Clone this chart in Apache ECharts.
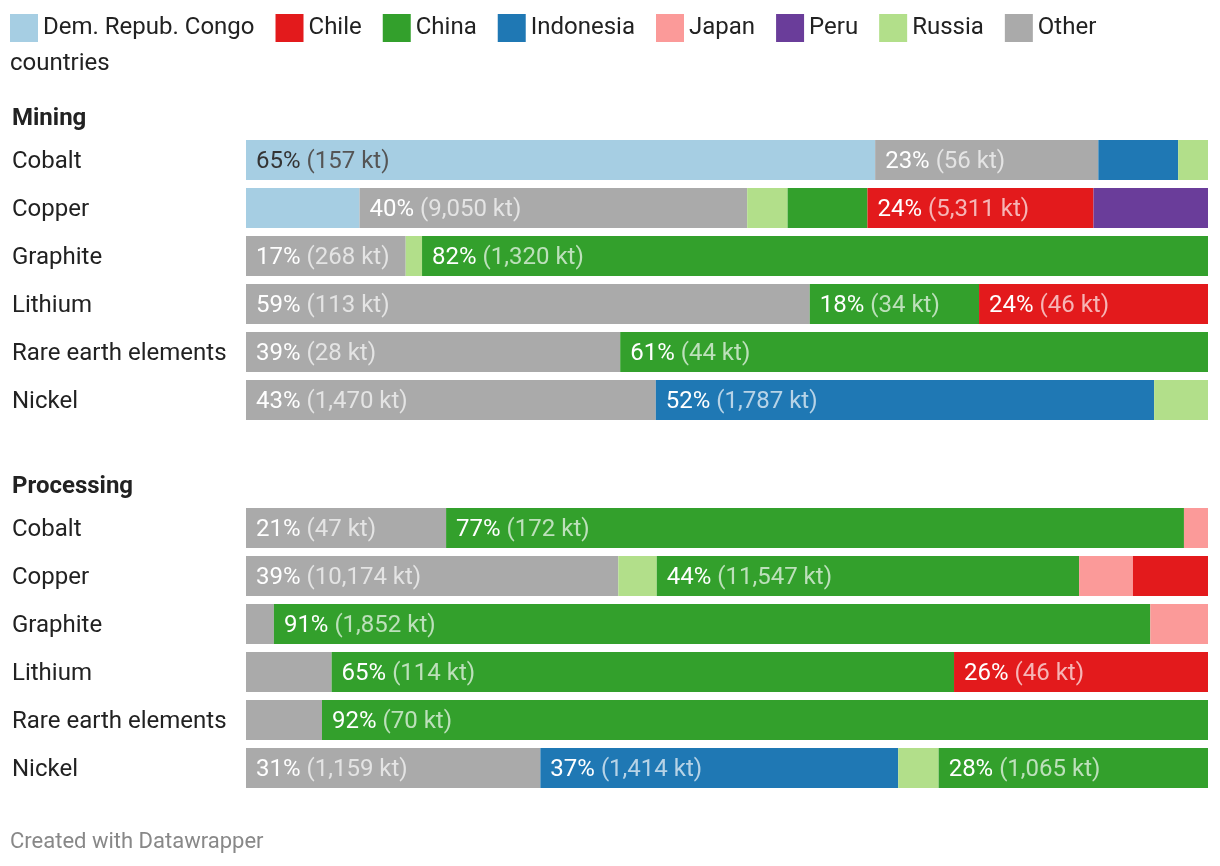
<!DOCTYPE html>
<html>
<head>
<meta charset="utf-8">
<script src="https://cdn.jsdelivr.net/npm/echarts@6/dist/echarts.min.js"></script>
<style>
  html, body { margin: 0; padding: 0; background: #fff; }
  #chart { width: 1220px; height: 866px; }
</style>
</head>
<body>
<div id="chart"></div>
<script>
// ---------- DATA ----------
const categories = ['Cobalt', 'Copper', 'Graphite', 'Lithium', 'Rare earth elements', 'Nickel'];

// stacking order of segments (left to right)
const stackOrder = ['Dem. Repub. Congo', 'Other countries', 'Indonesia', 'Russia', 'China', 'Japan', 'Chile', 'Peru'];
// legend order
const legendOrder = ['Dem. Repub. Congo', 'Chile', 'China', 'Indonesia', 'Japan', 'Peru', 'Russia', 'Other countries'];

// Mining shares (%) per country, by category
const miningCongo     = [65.4, 11.8, 0, 0, 0, 0];
const miningOther     = [23.2, 40.3, 16.6, 58.6, 38.9, 42.6];
const miningIndonesia = [8.3, 0, 0, 0, 0, 51.8];
const miningRussia    = [3.1, 4.2, 1.7, 0, 0, 5.6];
const miningChina     = [0, 8.3, 81.7, 17.6, 61.1, 0];
const miningJapan     = [0, 0, 0, 0, 0, 0];
const miningChile     = [0, 23.5, 0, 23.8, 0, 0];
const miningPeru      = [0, 11.9, 0, 0, 0, 0];

// Mining volumes (kt) shown in labels (null = no label)
const miningKtCongo     = [157, null, null, null, null, null];
const miningKtOther     = [56, 9050, 268, 113, 28, 1470];
const miningKtIndonesia = [null, null, null, null, null, 1787];
const miningKtChina     = [null, null, 1320, 34, 44, null];
const miningKtChile     = [null, 5311, null, 46, null, null];

// Processing shares (%) per country, by category
const procCongo     = [0, 0, 0, 0, 0, 0];
const procOther     = [20.8, 38.7, 2.9, 8.9, 7.9, 30.6];
const procIndonesia = [0, 0, 0, 0, 0, 37.2];
const procRussia    = [0, 4.0, 0, 0, 0, 4.2];
const procChina     = [76.7, 43.9, 91.1, 64.7, 92.1, 28.0];
const procJapan     = [2.5, 5.6, 6.0, 0, 0, 0];
const procChile     = [0, 7.8, 0, 26.4, 0, 0];
const procPeru      = [0, 0, 0, 0, 0, 0];

// Processing volumes (kt) shown in labels
const procKtOther     = [47, 10174, null, null, null, 1159];
const procKtIndonesia = [null, null, null, null, null, 1414];
const procKtChina     = [172, 11547, 1852, 114, 70, 1065];
const procKtChile     = [null, null, null, 46, null, null];

// ---------- STYLE ----------
const colors = {
  'Dem. Repub. Congo': '#a6cee3',
  'Chile': '#e31a1c',
  'China': '#33a02c',
  'Indonesia': '#1f78b4',
  'Japan': '#fb9a99',
  'Peru': '#6a3d9a',
  'Russia': '#b2df8a',
  'Other countries': '#aaaaaa'
};
const FONT = 'Roboto, "Noto Sans", sans-serif';
const FS = 24;

const miningShares = {
  'Dem. Repub. Congo': miningCongo, 'Other countries': miningOther, 'Indonesia': miningIndonesia,
  'Russia': miningRussia, 'China': miningChina, 'Japan': miningJapan, 'Chile': miningChile, 'Peru': miningPeru
};
const miningKt = {
  'Dem. Repub. Congo': miningKtCongo, 'Other countries': miningKtOther, 'Indonesia': miningKtIndonesia,
  'China': miningKtChina, 'Chile': miningKtChile
};
const procShares = {
  'Dem. Repub. Congo': procCongo, 'Other countries': procOther, 'Indonesia': procIndonesia,
  'Russia': procRussia, 'China': procChina, 'Japan': procJapan, 'Chile': procChile, 'Peru': procPeru
};
const procKt = {
  'Other countries': procKtOther, 'Indonesia': procKtIndonesia, 'China': procKtChina, 'Chile': procKtChile
};

function makeSeries(idx, shares, kts) {
  return stackOrder.map(name => {
    const kt = kts[name] || [];
    const dark = name === 'Dem. Repub. Congo';
    return {
      type: 'bar',
      name: name,
      stack: 'stack' + idx,
      xAxisIndex: idx,
      yAxisIndex: idx,
      barWidth: 40,
      data: shares[name],
      itemStyle: { color: colors[name] },
      emphasis: { disabled: true },
      label: {
        show: true,
        position: 'insideLeft',
        distance: 10,
        offset: [0, 2],
        fontFamily: FONT,
        fontSize: FS,
        formatter: p => {
          const v = kt[p.dataIndex];
          if (v === null || v === undefined) return '';
          return '{a|' + Math.round(p.value) + '%} {b|(' + v.toLocaleString('en-US') + ' kt)}';
        },
        rich: {
          a: { color: dark ? '#333333' : '#ffffff', fontSize: FS, fontFamily: FONT },
          b: { color: dark ? '#555555' : 'rgba(255,255,255,0.68)', fontSize: FS, fontFamily: FONT }
        }
      }
    };
  });
}

const yAxisBase = {
  type: 'category',
  data: categories,
  inverse: true,
  axisLine: { show: false },
  axisTick: { show: false },
  splitLine: { show: false },
  axisLabel: {
    align: 'left', margin: 234, fontSize: FS, color: '#222222', fontFamily: FONT,
    formatter: v => '{l|' + v + '}',
    rich: { l: { fontSize: FS, color: '#222222', fontFamily: FONT, padding: [4, 0, 0, 0] } }
  }
};
const xAxisBase = { type: 'value', min: 0, max: 100, show: false };

const option = {
  animation: false,
  backgroundColor: '#ffffff',
  textStyle: { fontFamily: FONT },
  legend: {
    data: legendOrder,
    left: 10,
    top: 14,
    padding: 0,
    icon: 'rect',
    itemWidth: 28,
    itemHeight: 28,
    itemGap: 21,
    selectedMode: false,
    formatter: n => n === 'Other countries' ? 'Other' : n,
    textStyle: { fontSize: FS, color: '#222222', fontFamily: FONT }
  },
  graphic: [
    { type: 'text', left: 10, top: 52, style: { text: 'countries', font: FS + 'px ' + FONT, fill: '#222222' } },
    { type: 'text', left: 12, top: 107, style: { text: 'Mining', font: 'bold ' + FS + 'px ' + FONT, fill: '#222222' } },
    { type: 'text', left: 12, top: 475, style: { text: 'Processing', font: 'bold ' + FS + 'px ' + FONT, fill: '#222222' } },
    { type: 'text', left: 10, top: 831, style: { text: 'Created with Datawrapper', font: '22px ' + FONT, fill: '#888888' } }
  ],
  grid: [
    { left: 246, right: 12, top: 136, height: 288 },
    { left: 246, right: 12, top: 504, height: 288 }
  ],
  xAxis: [Object.assign({ gridIndex: 0 }, xAxisBase), Object.assign({ gridIndex: 1 }, xAxisBase)],
  yAxis: [Object.assign({ gridIndex: 0 }, yAxisBase), Object.assign({ gridIndex: 1 }, yAxisBase)],
  series: makeSeries(0, miningShares, miningKt).concat(makeSeries(1, procShares, procKt))
};

const chart = echarts.init(document.getElementById('chart'), null, { renderer: 'canvas' });
chart.setOption(option);
</script>
</body>
</html>
